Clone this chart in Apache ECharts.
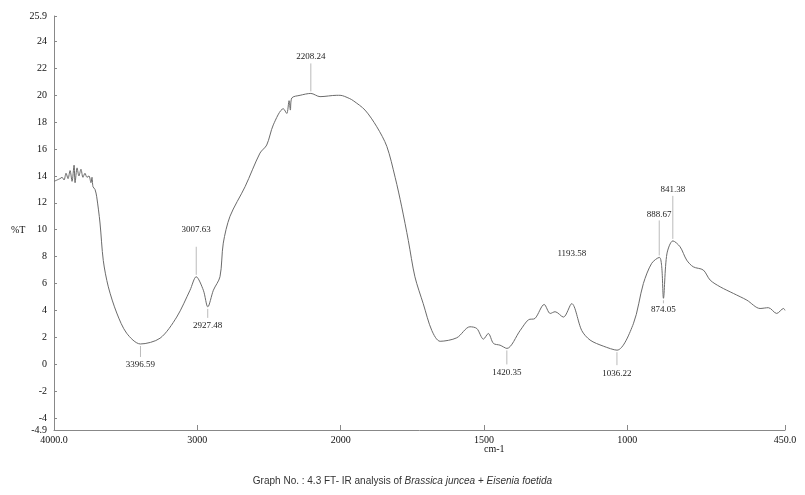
<!DOCTYPE html>
<html>
<head>
<meta charset="utf-8">
<script src="https://cdn.jsdelivr.net/npm/echarts@6/dist/echarts.min.js"></script>
<style>
  html, body { margin: 0; padding: 0; background: #ffffff; }
  #irChart { width: 805px; height: 495px; }
</style>
</head>
<body>
<div id="irChart"></div>
<script>
// FT-IR spectrum, wavenumber (cm-1) and %T
var wavenumbers = [
  4000, 3958, 3944, 3930, 3916, 3902, 3888, 3874, 3860, 3853, 3839, 3826, 3812, 3798, 3784, 3770, 3756, 3742, 3735, 3728, 3714,
  3702, 3679, 3656, 3621, 3562, 3493, 3397, 3260, 3144, 3051, 3008, 2958, 2927, 2888, 2842, 2819, 2772, 2667, 2563, 2516,
  2470, 2400, 2376, 2360, 2351, 2341, 2283, 2208, 2144, 2027, 2004, 1970, 1956, 1915, 1874, 1839, 1810, 1787, 1764, 1741,
  1712, 1682, 1653, 1595, 1549, 1525, 1502, 1485, 1467, 1444, 1420, 1374, 1345, 1322, 1290, 1269, 1252, 1223, 1194, 1159,
  1130, 1084, 1036, 979, 944, 915, 888, 880, 874, 862, 841, 816, 793, 770, 735, 711, 676, 630, 583, 537, 508, 479, 455, 450
];
var transmittance = [
  13.6, 13.8, 13.9, 13.7, 14.2, 13.8, 14.4, 13.6, 14.8, 13.5, 14.6, 14.0, 14.5, 13.9, 14.2, 13.9, 14.0, 13.5, 13.9, 13.2, 13.0,
  12.45, 10.5, 7.7, 5.75, 3.8, 2.3, 1.5, 1.93, 3.5, 5.5, 6.5, 5.5, 4.26, 5.5, 6.5, 9.0, 11.0, 13.2, 15.7, 16.3,
  17.8, 19.0, 18.65, 19.6, 18.9, 19.8, 20.0, 20.14, 19.9, 20.0, 20.0, 19.77, 19.6, 18.9, 17.66, 16.2, 13.9, 11.7, 9.2, 6.5,
  4.5, 2.5, 1.7, 1.96, 2.78, 2.65, 1.86, 2.28, 1.54, 1.41, 1.17, 2.5, 3.3, 3.4, 4.44, 3.77, 3.9, 3.5, 4.5, 2.5,
  1.79, 1.34, 1.04, 3.0, 6.0, 7.5, 7.94, 7.24, 4.9, 8.2, 9.17, 8.73, 7.74, 7.24, 7.0, 6.25, 5.75, 5.26, 4.76, 4.14, 4.2, 3.77, 4.14, 4.0
];

// labelled peaks
var peakWave = [3396.59, 3007.63, 2927.48, 2208.24, 1420.35, 1193.58, 1036.22, 888.67, 874.05, 841.38];
var peakT = [1.5, 6.5, 4.26, 20.14, 1.17, 4.5, 1.04, 7.94, 4.9, 9.17];

// tick labels
var xTicks = [4000, 3000, 2000, 1500, 1000, 450];
var yTicks = [-4.9, -4, -2, 0, 2, 4, 6, 8, 10, 12, 14, 16, 18, 20, 22, 24, 25.9];

// spectrometer plots below 2000 cm-1 at double scale
function toAxis(w) {
  return w >= 2000 ? w : 2000 - (2000 - w) * 2;
}
function fromAxis(u) {
  return u >= 2000 ? u : 2000 - (2000 - u) / 2;
}

// marker line / label placement per peak: [direction, line length, text offset]
var peakLayout = [
  [1, 13, 21], [-1, 30, 47], [1, 11, 19], [-1, 30, 37], [1, 16, 24],
  [-1, 0, 50], [1, 15, 23], [-1, 37, 43], [1, 5, 11], [-1, 45, 51]
];

var curveData = wavenumbers.map(function (w, i) { return [toAxis(w), transmittance[i]]; });
var peakData = peakWave.map(function (w, i) { return [toAxis(w), peakT[i], w.toFixed(2)]; });

var serif = 'Liberation Serif';
var chart = echarts.init(document.getElementById('irChart'));

var option = {
  backgroundColor: '#ffffff',
  animation: false,
  grid: { left: 54, right: 20, top: 16, bottom: 65 },
  xAxis: {
    type: 'value',
    min: toAxis(450),
    max: 4000,
    inverse: true,
    splitLine: { show: false },
    axisLine: { onZero: false, lineStyle: { color: '#888', width: 1 } },
    axisTick: {
      inside: true, length: 5, lineStyle: { color: '#888' },
      customValues: xTicks.map(toAxis)
    },
    axisLabel: {
      customValues: xTicks.map(toAxis),
      fontFamily: serif, fontSize: 10, color: '#111', margin: 5,
      formatter: function (u) {
        var w = Math.round(fromAxis(u));
        return (w === 4000 || w === 450) ? w.toFixed(1) : String(w);
      }
    }
  },
  yAxis: {
    type: 'value',
    min: -4.9,
    max: 25.9,
    splitLine: { show: false },
    axisLine: { show: true, onZero: false, lineStyle: { color: '#888', width: 1 } },
    axisTick: { show: true, inside: true, length: 3, lineStyle: { color: '#888' }, customValues: yTicks },
    axisLabel: {
      customValues: yTicks,
      fontFamily: serif, fontSize: 10, color: '#111', margin: 7,
      formatter: function (v) { return String(v); }
    }
  },
  graphic: [
    { type: 'text', left: 11, top: 225, style: { text: '%T', font: '10px "Liberation Serif"', fill: '#111' } },
    { type: 'text', left: 484, top: 444, style: { text: 'cm-1', font: '10px "Liberation Serif"', fill: '#111' } },
    {
      type: 'text', left: 'center', top: 476,
      style: {
        text: '{n|Graph No. : 4.3 FT- IR analysis of }{i|Brassica juncea}{n| + }{i|Eisenia foetida}',
        rich: {
          n: { fontFamily: 'Liberation Sans', fontSize: 10, fill: '#333' },
          i: { fontFamily: 'Liberation Sans', fontSize: 10, fontStyle: 'italic', fill: '#333' }
        }
      }
    }
  ],
  series: [
    {
      type: 'line',
      data: curveData,
      showSymbol: false,
      smooth: 0.3,
      lineStyle: { color: '#6b6b6b', width: 1 }
    },
    {
      type: 'custom',
      data: peakData,
      z: 5,
      renderItem: function (params, api) {
        var p = api.coord([api.value(0), api.value(1)]);
        var lay = peakLayout[params.dataIndex];
        var dir = lay[0];
        var children = [];
        if (lay[1] > 0) {
          children.push({
            type: 'line',
            shape: { x1: p[0], y1: p[1] + dir * 2, x2: p[0], y2: p[1] + dir * lay[1] },
            style: { stroke: '#aaa', lineWidth: 0.8 }
          });
        }
        children.push({
          type: 'text',
          style: {
            text: peakData[params.dataIndex][2],
            x: p[0], y: p[1] + dir * lay[2],
            align: 'center', verticalAlign: 'middle',
            font: '9px "Liberation Serif"', fill: '#222'
          }
        });
        return { type: 'group', children: children };
      }
    }
  ]
};

chart.setOption(option);
</script>
</body>
</html>
